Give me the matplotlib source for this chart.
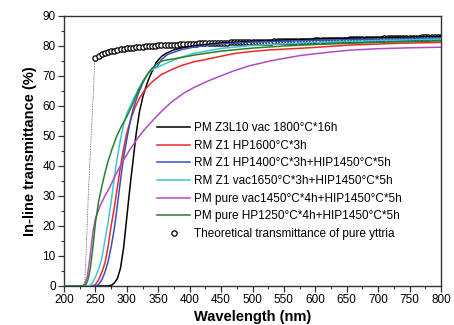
import numpy as np
import matplotlib
matplotlib.use("Agg")
import matplotlib.pyplot as plt
from matplotlib.ticker import MultipleLocator

plt.rcParams['font.family'] = ['Liberation Sans', 'DejaVu Sans']

# ---------------- data ----------------
labels = [
    "PM Z3L10 vac 1800°C*16h",
    "RM Z1 HP1600°C*3h",
    "RM Z1 HP1400°C*3h+HIP1450°C*5h",
    "RM Z1 vac1650°C*3h+HIP1450°C*5h",
    "PM pure vac1450°C*4h+HIP1450°C*5h",
    "PM pure HP1250°C*4h+HIP1450°C*5h",
]
theo_label = "Theoretical transmittance of pure yttria"
colors = ["#000000", "#f02828", "#3550c0", "#3cc8d2", "#b04cc4", "#2a7f2a"]

black_wl = [200, 270, 276, 280, 285, 290, 295, 300, 305, 310, 315, 320, 326, 333, 340, 347,
            355, 363, 375, 390, 410, 450, 500, 550, 600, 650, 700, 750, 800]
black_T = [0, 0, 0.3, 1, 2.5, 6, 13, 23, 33, 42, 51, 58, 63.5, 68, 71.5, 74.6,
           76.5, 77.6, 78.7, 79.5, 80.2, 81, 81.6, 82, 82.3, 82.6, 82.8, 83, 83.2]

red_wl = [200, 245, 250, 255, 260, 265, 270, 275, 280, 285, 290, 295, 300, 307, 313, 320,
          329, 340, 355, 370, 387, 408, 421, 450, 474, 500, 527, 590, 654, 733, 800]
red_T = [0, 0, 0.5, 2, 4.5, 7.5, 13, 20, 26, 33, 40, 46, 51, 56, 59.5, 62.5,
         65.5, 68, 70.5, 72, 73.5, 74.8, 75.3, 76.6, 77.6, 78.2, 78.7, 79.4, 80.3, 80.9, 81.2]

blue_wl = [200, 250, 255, 260, 265, 270, 275, 280, 285, 290, 295, 300, 305, 310, 318, 326,
           334, 342, 348, 355, 365, 387, 408, 450, 500, 600, 700, 800]
blue_T = [0, 0, 0.5, 2, 4.5, 8, 13, 19, 27, 35.5, 43, 49, 54.5, 59, 64, 68,
          71, 72.8, 73, 75.5, 77.2, 78.8, 79.7, 80.7, 81.3, 81.9, 82.3, 82.7]

cyan_wl = [200, 240, 245, 250, 255, 260, 265, 270, 275, 280, 285, 290, 295, 300, 310, 318,
           326, 334, 342, 350, 360, 371, 390, 408, 450, 500, 550, 600, 700, 800]
cyan_T = [0, 0, 1, 3, 5.5, 9, 15, 21, 28, 36, 43, 49, 54, 57.5, 62, 65.5,
          68.5, 71, 72.3, 73, 74, 75, 76.5, 77.6, 79.2, 80.2, 80.8, 81.2, 81.8, 82.3]

purple_wl = [200, 228, 233, 237, 241, 246, 250, 257, 265, 273, 282, 292, 305, 318, 330, 344,
             358, 371, 390, 408, 430, 448, 470, 495, 530, 575, 620, 654, 700, 750, 800]
purple_T = [0, 0, 0.5, 3, 9, 18, 22.5, 26.5, 30, 33, 37, 41, 45.5, 49.5, 52.6, 55.8,
            58.8, 61.3, 64.2, 66.3, 68.4, 69.9, 71.7, 73.4, 75.1, 76.8, 77.9, 78.6, 79.1, 79.4, 79.6]

green_wl = [200, 230, 235, 238, 242, 246, 250, 255, 260, 265, 270, 277, 284, 292, 300, 310,
            318, 328, 339, 350, 360, 371, 390, 408, 450, 500, 550, 600, 700, 800]
green_T = [0, 0, 0.5, 2, 6, 13, 21, 28, 33, 37.5, 41.5, 46, 50, 53.5, 56.5, 61,
           65, 69, 72.3, 74.5, 75.2, 75.6, 76.3, 77, 78.3, 79.3, 80, 80.5, 81.2, 81.7]

# theoretical absorption edge (dotted) and circles every 5 nm
edge_wl = [230, 233, 236, 239, 242, 245, 247, 249]
edge_T = [0, 1, 15, 32, 45, 57, 66, 76]

theo_wl = list(range(250, 801, 5))
theo_T = [76.0, 76.7, 77.2, 77.6, 77.9, 78.2, 78.5, 78.7, 78.9, 79.1,
          79.25, 79.4, 79.5, 79.6, 79.7, 79.8, 79.9, 80.0, 80.05, 80.1,
          80.2, 80.25, 80.3, 80.35, 80.4, 80.45, 80.5, 80.55, 80.6, 80.65,
          80.7, 80.75, 80.8, 80.85, 80.9, 80.93, 80.96, 81.0, 81.03, 81.06,
          81.1, 81.12, 81.15, 81.17, 81.2, 81.22, 81.25, 81.27, 81.3, 81.32,
          81.35, 81.37, 81.4, 81.42, 81.45, 81.47, 81.5, 81.52, 81.55, 81.57,
          81.6, 81.62, 81.65, 81.67, 81.7, 81.72, 81.75, 81.77, 81.8, 81.83,
          81.86, 81.89, 81.92, 81.95, 81.98, 82.01, 82.04, 82.07, 82.1, 82.13,
          82.16, 82.19, 82.22, 82.25, 82.28, 82.31, 82.34, 82.37, 82.4, 82.43,
          82.46, 82.49, 82.52, 82.55, 82.58, 82.61, 82.64, 82.67, 82.7, 82.73,
          82.76, 82.78, 82.8, 82.82, 82.84, 82.86, 82.88, 82.9, 82.92, 82.94,
          82.96]
theo_T = theo_T[:len(theo_wl)]

series = [(black_wl, black_T), (red_wl, red_T), (blue_wl, blue_T),
          (cyan_wl, cyan_T), (purple_wl, purple_T), (green_wl, green_T)]

# ---------------- figure ----------------
fig = plt.figure(figsize=(4.54, 3.25), dpi=100)
ax = fig.add_axes([64/454, 39/325, 377/454, 270/325])

ax.plot(edge_wl, edge_T, linestyle=(0, (1, 1)), color="#555555", lw=0.6)
th, = ax.plot(theo_wl, theo_T, linestyle="none", marker="o", ms=3.8, mfc="white",
              mec="black", mew=0.9, label=theo_label, zorder=2)

handles = []
for (wl, T), c, lab in zip(series, colors, labels):
    h, = ax.plot(wl, T, color=c, lw=1.1, label=lab, zorder=3)
    handles.append(h)

leg = ax.legend(handles + [th], labels + [theo_label], frameon=False,
                loc="upper left", bbox_to_anchor=(157/454, 1 - 122/325),
                bbox_transform=fig.transFigure, fontsize=8.5,
                handlelength=2.8, handletextpad=0.3, labelspacing=0.48,
                borderpad=0, borderaxespad=0)

ax.set_xlim(200, 800)
ax.set_ylim(0, 90)
ax.xaxis.set_major_locator(MultipleLocator(50))
ax.xaxis.set_minor_locator(MultipleLocator(25))
ax.yaxis.set_major_locator(MultipleLocator(10))
ax.yaxis.set_minor_locator(MultipleLocator(5))
ax.tick_params(which="major", direction="out", length=4, width=0.9, labelsize=8.5,
               pad=2, color="#333333")
ax.tick_params(which="minor", direction="out", length=2.2, width=0.8, color="#333333")
ax.tick_params(top=False, right=False, which="both")
for s in ax.spines.values():
    s.set_linewidth(1.0)
    s.set_color("#333333")

ax.set_xlabel("Wavelength (nm)", fontsize=10.5, fontweight="bold", labelpad=3)
ax.set_ylabel("In-line transmittance (%)", fontsize=10.5, fontweight="bold", labelpad=4)

fig.savefig("out.png", dpi=100)
